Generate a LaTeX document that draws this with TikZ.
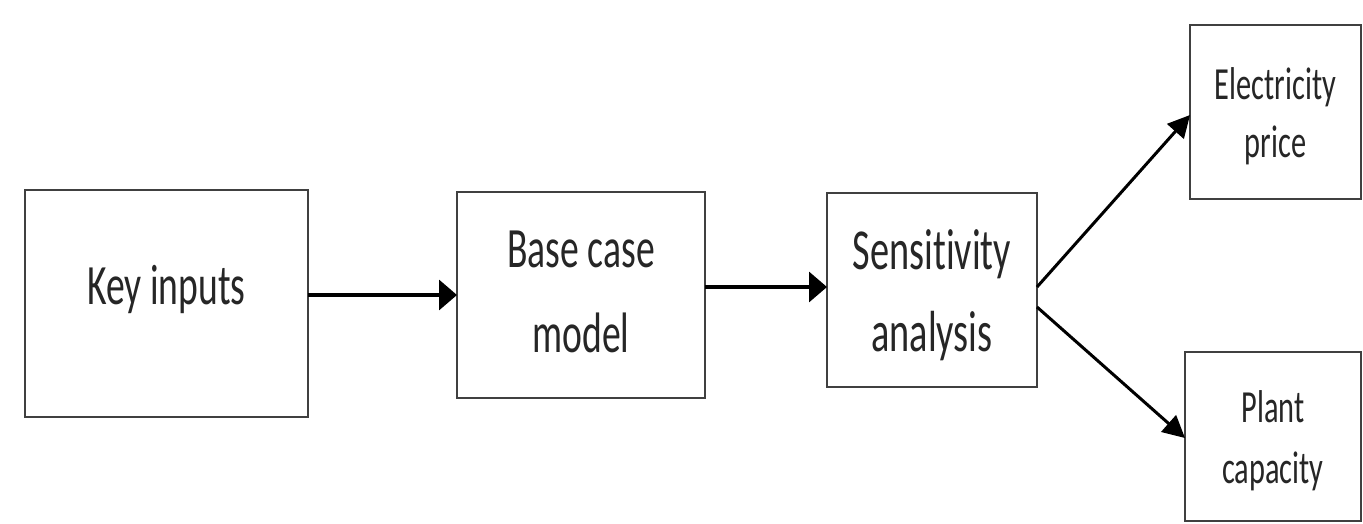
\documentclass[tikz,border=0pt]{standalone}
\usepackage{fontspec}
\setmainfont{Carlito}[FakeStretch=0.66, Ligatures=CommonOff]
\usetikzlibrary{arrows.meta}

\tikzset{
  stage/.style={draw=black!75, line width=2.6pt, fill=white, inner sep=0pt,
    outer sep=0pt},
  caption/.style={align=center, text=black!85, inner sep=0pt},
  hflow/.style={line width=3.4pt, -{Triangle[length=18pt,width=30pt]}},
  dflow/.style={line width=3pt, -{Triangle[length=22pt,width=22pt]}},
}

\begin{document}
\begin{tikzpicture}[x=1pt, y=-1pt]
  \useasboundingbox (0,0) rectangle (1363,523);

  % process stages
  \node[stage, minimum width=283pt, minimum height=227pt,
        label={[caption, font=\fontsize{57pt}{68pt}\selectfont, yshift=14pt]center:Key inputs}]
        (key) at (166.5,303.5) {};
  \node[stage, minimum width=248pt, minimum height=206pt,
        label={[caption, font=\fontsize{57pt}{85pt}\selectfont, yshift=3pt]center:{Base case\\ model}}]
        (base) at (581,295) {};
  \node[stage, minimum width=210pt, minimum height=194pt,
        label={[caption, font=\fontsize{58pt}{82pt}\selectfont, yshift=-5pt]center:{Sensitivity\\ analysis}}]
        (sens) at (932,290) {};

  % outcomes of the sensitivity analysis
  \node[stage, minimum width=171pt, minimum height=174pt,
        label={[caption, font=\fontsize{46pt}{58pt}\selectfont, yshift=-4pt]center:{Electricity\\ price}}]
        (elec) at (1275.5,112) {};
  \node[stage, minimum width=176pt, minimum height=169pt,
        label={[caption, font=\fontsize{46pt}{61pt}\selectfont, yshift=-4pt]center:{Plant\\ capacity}}]
        (plant) at (1273,436.5) {};

  % connectors
  \draw[hflow] (key.east |- base.west) -- (base.west);
  \draw[hflow] ([yshift=3pt]sens.west -| base.east) -- ([yshift=3pt]sens.west);
  \draw[dflow] ([yshift=3pt]sens.east) -- ([yshift=-3pt]elec.west);
  \draw[dflow] ([yshift=-17pt]sens.east) -- ([yshift=-1.5pt]plant.west);
\end{tikzpicture}
\end{document}
